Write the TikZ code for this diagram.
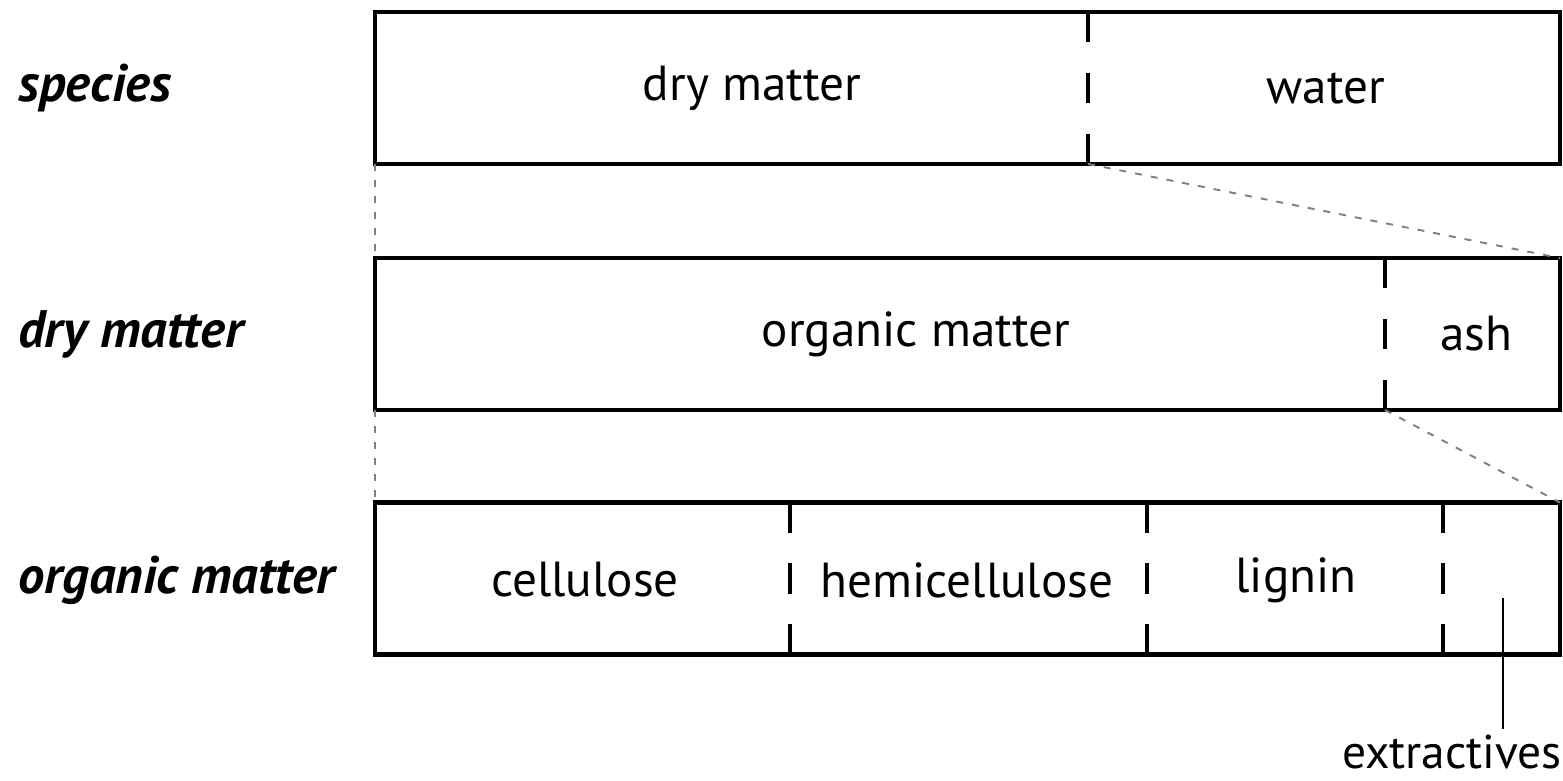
\documentclass[tikz,border=0pt]{standalone}
\usepackage{fontspec}
\setmainfont{PT Sans}
\usetikzlibrary{positioning,calc}

\begin{document}
\begin{tikzpicture}[x=0.02cm,y=-0.02cm,
bar/.style={draw,line width=2.5pt,minimum width=23.7cm,minimum height=3.04cm,inner sep=0pt,outer sep=0pt},
divider/.style={line width=1.9pt,dash pattern=on 0.608cm off 0.608cm},
guide/.style={gray,line width=1.1pt,dash pattern=on 0.14cm off 0.18cm},
part/.style={font=\fontsize{28}{32}\selectfont},
level/.style={font=\fontsize{30}{34}\selectfont\bfseries\itshape,anchor=west}]
\useasboundingbox (0,0) rectangle (1563,781);
% the three bars
\node[bar] (spbar) at (967.5,88) {};
\node[bar] (dmbar) at (967.5,334) {};
\node[bar] (ombar) at (967.5,578.5) {};
% dividers
\coordinate (dw) at (1088,0);
\coordinate (oa) at (1385,0);
\coordinate (ch) at (790,0);
\coordinate (hl) at (1147,0);
\coordinate (le) at (1443,0);
\draw[divider] (spbar.north -| dw)--(spbar.south -| dw);
\draw[divider] (dmbar.north -| oa)--(dmbar.south -| oa);
\draw[divider] (ombar.north -| ch)--(ombar.south -| ch);
\draw[divider] (ombar.north -| hl)--(ombar.south -| hl);
\draw[divider] (ombar.north -| le)--(ombar.south -| le);
% level names
\node[level] (lsp) at (12,88) {species};
\node[level] (ldm) at (12,334) {dry matter};
\node[level] (lom) at (12,580) {organic matter};
% parts
\node[part] (dry) at (752,88) {dry matter};
\node[part] (wat) at (1326,88) {water};
\node[part] (org) at (916,334) {organic matter};
\node[part] (ash) at (1476,334) {ash};
\node[part] (cel) at (585,580) {cellulose};
\node[part] (hem) at (967,580) {hemicellulose};
\node[part] (lig) at (1296,580) {lignin};
\node[part,font=\fontsize{27}{30}\selectfont,anchor=east] (ext) at (1568,752) {extractives};
% zoom guides
\draw[guide] (spbar.south west)--(dmbar.north west);
\draw[guide] (spbar.south -| dw)--(dmbar.north east);
\draw[guide] (dmbar.south west)--(ombar.north west);
\draw[guide] (dmbar.south -| oa)--(ombar.north east);
% extractives pointer
\coordinate (xp) at (1503,598);
\draw[line width=1pt] (xp)--(xp |- ext.north);
\end{tikzpicture}
\end{document}
